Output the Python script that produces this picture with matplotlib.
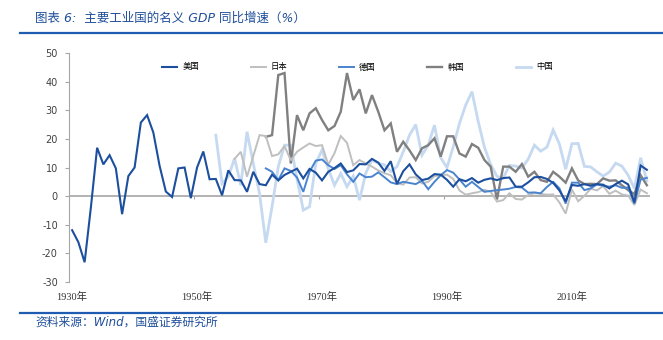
import matplotlib
matplotlib.use("Agg")
import matplotlib.pyplot as plt
import numpy as np

plt.rcParams["font.family"] = ["DejaVu Sans", "Noto Sans CJK SC"]
plt.rcParams["axes.unicode_minus"] = False

# nominal GDP growth, % y/y
US_START = 1930
US = [
    -11.9, -16.1, -23.1, -4.0, 16.9, 11.1, 14.3, 9.7, -6.3, 7.0,
    10.0, 25.7, 28.3, 22.2, 10.6, 1.6, -0.3, 9.7, 10.0, -0.7,
    10.0, 15.6, 5.9, 6.0, 0.3, 9.0, 5.6, 5.5, 1.5, 8.5,
    4.2, 3.8, 7.5, 5.5, 7.4, 8.5, 9.6, 6.2, 9.5, 8.2,
    5.5, 8.5, 9.8, 11.4, 8.4, 9.0, 11.2, 11.1, 13.0, 11.7,
    8.8, 12.2, 4.3, 8.7, 11.1, 7.6, 5.6, 6.1, 7.7, 7.5,
    5.7, 3.3, 5.9, 5.2, 6.3, 4.7, 5.7, 6.2, 5.6, 6.3,
    6.5, 3.3, 3.3, 4.8, 6.6, 6.7, 6.0, 4.6, 2.0, -1.8,
    3.9, 3.6, 4.2, 3.6, 4.2, 4.0, 2.7, 4.2, 5.4, 4.1,
    -2.2, 10.7, 9.2,
]

JP_START = 1956
JP = [
    13.0, 15.5, 6.8, 14.0, 21.3, 21.0, 14.0, 14.6, 17.5, 12.5,
    15.5, 17.0, 18.4, 17.5, 17.8, 11.0, 15.0, 21.0, 18.6, 10.8,
    12.6, 11.4, 10.3, 9.0, 8.0, 7.3, 4.6, 4.0, 6.5, 6.6,
    4.4, 5.0, 7.0, 7.3, 7.5, 6.0, 2.0, 0.5, 1.0, 1.4,
    2.2, 1.5, -1.9, -1.4, 1.0, -1.0, -1.2, 0.4, 1.0, 0.8,
    0.5, 0.6, -2.2, -6.1, 2.3, -1.8, 0.1, 2.6, 2.0, 3.5,
    0.8, 1.9, 0.6, 0.2, -3.1, 2.3, 1.0,
]

DE_START = 1961
DE = [
    9.7, 8.5, 5.6, 9.7, 8.8, 6.5, 1.5, 8.5, 12.4, 12.8,
    10.8, 9.5, 10.8, 7.6, 5.0, 7.9, 6.6, 6.8, 8.3, 6.6,
    4.8, 4.2, 5.0, 4.6, 4.2, 5.4, 2.4, 5.0, 7.3, 9.1,
    8.2, 5.8, 3.3, 5.0, 3.2, 1.5, 1.8, 2.1, 2.3, 2.6,
    3.2, 3.0, 1.2, 1.3, 1.0, 3.2, 5.0, 2.7, -2.6, 4.7,
    4.7, 2.1, 2.7, 4.1, 3.6, 3.3, 3.8, 2.9, 3.0, -2.6,
    5.8, 6.4,
]

KR_START = 1961
KR = [
    20.7, 21.3, 42.3, 43.0, 11.4, 28.3, 23.0, 28.9, 30.7, 26.6,
    23.0, 24.5, 29.5, 43.0, 33.6, 37.3, 28.9, 35.3, 29.5, 23.0,
    25.4, 15.5, 19.0, 16.0, 12.6, 16.7, 17.8, 20.2, 13.8, 20.9,
    20.9, 14.9, 13.8, 18.2, 16.9, 12.6, 10.3, -1.2, 10.3, 10.3,
    8.5, 11.2, 6.8, 8.5, 5.6, 5.0, 8.5, 6.8, 4.7, 9.7,
    5.5, 4.2, 4.3, 4.2, 6.2, 5.4, 5.5, 3.8, 2.1, 0.7,
    7.3, 3.8,
]

CN_START = 1953
CN = [
    21.3, 4.4, 6.8, 13.2, 3.8, 22.5, 11.4, 0.9, -16.3, -3.7,
    10.3, 17.8, 17.8, 6.0, -4.9, -3.7, 11.4, 16.1, 9.5, 3.8,
    7.9, 3.3, 7.0, -1.4, 8.0, 12.6, 11.5, 10.9, 8.6, 10.3,
    15.5, 21.3, 25.0, 14.3, 17.8, 24.8, 13.4, 10.0, 17.2, 25.4,
    31.8, 36.5, 26.1, 17.1, 11.0, 6.9, 6.3, 10.7, 10.5, 9.8,
    12.9, 17.8, 15.7, 17.1, 23.1, 18.2, 9.4, 18.3, 18.4, 10.4,
    10.2, 8.5, 7.0, 8.4, 11.5, 10.5, 7.3, 2.7, 13.4, 5.3,
]

LABEL_YEARS = [1930, 1950, 1970, 1990, 2010]
Y_TICKS = list(range(-30, 51, 10))

BLUE_TEXT = "#1f4e9a"


def years(start, values):
    return np.arange(start, start + len(values))


def main():
    fig = plt.figure(figsize=(6.63, 3.40), dpi=100)
    ax = fig.add_axes([69 / 663, 1 - 282 / 340, (650 - 69) / 663, 229 / 340])

    ax.axhline(0, color="#a6a6a6", lw=1.2, zorder=1)
    ax.vlines([y - 0.5 for y in LABEL_YEARS], -0.9, 0, color="#a6a6a6", lw=0.8, zorder=1)

    series = [
        ("中国", CN_START, CN, "#c5d9f0", 2.0, 2),
        ("韩国", KR_START, KR, "#808080", 1.7, 3),
        ("德国", DE_START, DE, "#4a84cf", 1.4, 4),
        ("日本", JP_START, JP, "#bfbfbf", 1.4, 3.5),
        ("美国", US_START, US, "#1d4f9f", 1.5, 5),
    ]
    handles = {}
    for name, start, vals, color, lw, z in series:
        (h,) = ax.plot(years(start, vals), vals, color=color, lw=lw, zorder=z,
                       solid_joinstyle="miter")
        handles[name] = h

    ax.set_xlim(1929.5, 2022.5)
    ax.set_ylim(-30, 50)
    ax.set_yticks(Y_TICKS)
    ax.set_xticks(LABEL_YEARS)
    ax.set_xticklabels([f"{y}年" for y in LABEL_YEARS],
                       family=["Liberation Serif", "Noto Sans CJK SC"], fontsize=7.5,
                       color="#333333")
    ax.tick_params(axis="x", length=0, pad=7)
    ax.tick_params(axis="y", length=3, width=0.8, color="#a6a6a6", pad=5,
                   labelsize=7, labelcolor="#404040")
    for side in ["top", "right", "bottom"]:
        ax.spines[side].set_visible(False)
    ax.spines["left"].set_color("#a6a6a6")
    ax.spines["left"].set_linewidth(0.8)

    order = ["美国", "日本", "德国", "韩国", "中国"]
    fig.legend([handles[n] for n in order], order, loc="center left",
               bbox_to_anchor=(158 / 663, 1 - 67 / 340), ncol=5, frameon=False,
               borderpad=0, handlelength=1.8, handletextpad=0.6, columnspacing=6.2,
               prop={"family": "Noto Sans CJK SC", "size": 6})

    # header / footer
    fig.add_artist(plt.Line2D([20 / 663, 1], [1 - 33 / 340] * 2, color="#1f5bb0", lw=1.6))
    fig.add_artist(plt.Line2D([20 / 663, 1], [1 - 313 / 340] * 2, color="#1f5bb0", lw=1.6))
    fig.text(35 / 663, 1 - 18 / 340, "图表 6:  主要工业国的名义 GDP 同比增速（%）",
             color=BLUE_TEXT, fontsize=9, style="italic", va="center",
             family=["DejaVu Sans", "Noto Sans CJK SC"])
    fig.text(35 / 663, 1 - 322 / 340, "资料来源：Wind，国盛证券研究所",
             color=BLUE_TEXT, fontsize=8.5, style="italic", va="center",
             family=["DejaVu Sans", "Noto Sans CJK SC"])

    fig.savefig("out.png", dpi=100)
    plt.close(fig)


if __name__ == "__main__":
    main()
